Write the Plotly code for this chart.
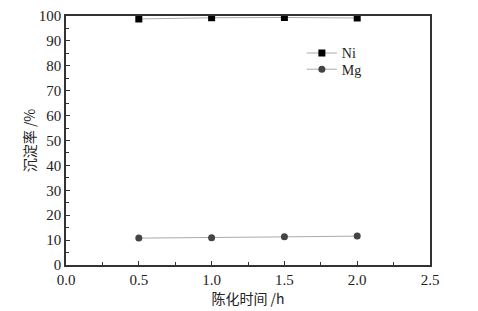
import plotly.graph_objects as go

time_h = [0.5, 1.0, 1.5, 2.0]
ni_rate = [98.8, 99.3, 99.4, 99.2]
mg_rate = [10.8, 10.9, 11.3, 11.6]

FONT = "Liberation Serif, Times New Roman, serif"
CJK = "Noto Sans CJK SC, Liberation Serif"

fig = go.Figure()
fig.add_trace(go.Scatter(x=time_h, y=ni_rate, name="Ni", mode="lines+markers",
                         line=dict(color="#aaaaaa", width=1), legend="legend",
                         marker=dict(symbol="square", size=7, color="#000000")))
fig.add_trace(go.Scatter(x=time_h, y=mg_rate, name="Mg", mode="lines+markers",
                         line=dict(color="#aaaaaa", width=1), legend="legend2",
                         marker=dict(symbol="circle", size=7, color="#444444")))

leg_common = dict(xanchor="left", yanchor="top", bgcolor="rgba(0,0,0,0)",
                  font=dict(size=14, family=FONT), itemwidth=30)

fig.update_layout(
    width=478, height=311,
    margin=dict(l=58, r=56, t=8, b=54, autoexpand=False),
    paper_bgcolor="white", plot_bgcolor="white",
    font=dict(family=FONT, size=15, color="#222222"),
    showlegend=True,
    legend=dict(x=0.648, y=0.914, **leg_common),
    legend2=dict(x=0.648, y=0.849, **leg_common),
    xaxis=dict(range=[0, 2.5], tickvals=[0, 0.5, 1.0, 1.5, 2.0, 2.5],
               ticktext=["0.0", "0.5", "1.0", "1.5", "2.0", "2.5"],
               ticks="inside", ticklen=4, tickcolor="#333333",
               minor=dict(tickvals=[0.25, 0.75, 1.25, 1.75, 2.25], ticks="inside", ticklen=3, tickcolor="#333333"),
               showline=True, linecolor="#333333", linewidth=1.5, mirror=True,
               showgrid=False, zeroline=False, automargin=False,
               title=dict(text="陈化时间 /h", font=dict(size=14, family=CJK), standoff=2)),
    yaxis=dict(range=[0, 100], tickvals=list(range(0, 101, 10)),
               ticks="inside", ticklen=4, tickcolor="#333333", ticklabeloverflow="allow",
               minor=dict(tickvals=list(range(5, 100, 10)), ticks="inside", ticklen=3, tickcolor="#333333"),
               showline=True, linecolor="#333333", linewidth=1.5, mirror=True,
               showgrid=False, zeroline=False, automargin=False,
               title=dict(text="沉淀率 /%", font=dict(size=14, family=CJK), standoff=0)),
)

fig.write_html("out.html")
